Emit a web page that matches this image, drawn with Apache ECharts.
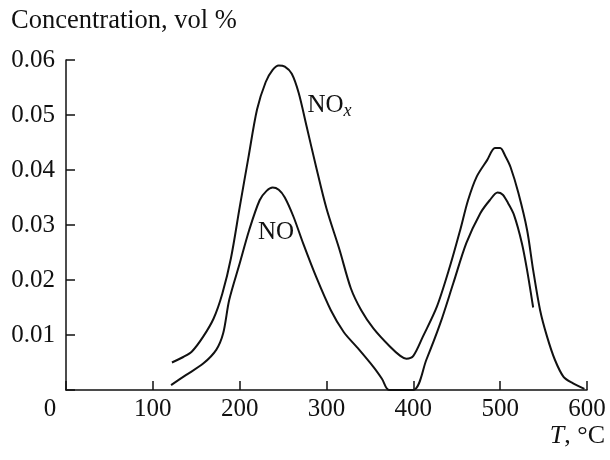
<!DOCTYPE html>
<html>
<head>
    <meta charset="utf-8">
    <title>NO / NOx</title>
    <script src="https://cdn.jsdelivr.net/npm/echarts@6/dist/echarts.min.js"></script>
    <style>
        html, body { margin: 0; padding: 0; background: #fff; }
        #chart { width: 610px; height: 460px; }
    </style>
</head>
<body>
<div id="chart"></div>
<script>
    // temperature ticks
    var xTicks = [0, 100, 200, 300, 400, 500, 600];
    var yTicks = [0.01, 0.02, 0.03, 0.04, 0.05, 0.06];

    // NOx curve
    var noxT = [122, 135, 145, 158, 170, 180, 190, 200, 210, 220, 230, 238, 245, 252, 260, 268, 277, 288, 300, 315,
        328, 340, 354, 373, 385, 392, 400, 411, 427, 442, 454, 463, 473, 485, 494, 500, 506, 512, 521, 531,
        538, 546, 554, 563, 573, 584, 597];
    var noxC = [0.0050, 0.0060, 0.0070, 0.0097, 0.0130, 0.0175, 0.0240, 0.0332, 0.0422, 0.0510, 0.0560, 0.0582, 0.0590, 0.0588, 0.0575, 0.0540, 0.0480, 0.0406, 0.0330, 0.0255,
        0.0185, 0.0145, 0.0112, 0.0079, 0.0062, 0.0057, 0.0062, 0.0097, 0.0151, 0.0224, 0.0291, 0.0345, 0.0388, 0.0418, 0.0440, 0.0440, 0.0425, 0.0405, 0.0358, 0.0291,
        0.0218, 0.0145, 0.0097, 0.0055, 0.0024, 0.0012, 0.0002];

    // NO curve
    var noT = [121, 138, 158, 173, 181, 188, 200, 211, 223, 231, 238, 245, 252, 262, 273, 288, 305, 320, 335, 354,
        364, 372, 400, 415, 431, 446, 461, 477, 488, 497, 503, 509, 516, 525, 531, 538];
    var noC = [0.0009, 0.0027, 0.0048, 0.0073, 0.0103, 0.0164, 0.0230, 0.0291, 0.0345, 0.0362, 0.0368, 0.0364, 0.0350, 0.0315, 0.0267, 0.0206, 0.0145, 0.0105, 0.0078, 0.0042,
        0.0020, 0.0000, 0.0000, 0.0055, 0.0121, 0.0194, 0.0267, 0.0321, 0.0345, 0.0359, 0.0355, 0.0340, 0.0318, 0.0267, 0.0218, 0.0150];

    // curve labels (data coords)
    var noxLabelAt = [278, 0.0518];
    var noLabelAt = [221, 0.0287];

    function zip(a, b) {
        var out = [];
        for (var i = 0; i < a.length; i++) out.push([a[i], b[i]]);
        return out;
    }

    var font = '"Liberation Serif", "DejaVu Serif", serif';
    var ink = '#111';

    var chart = echarts.init(document.getElementById('chart'), null, {renderer: 'canvas'});

    var option = {
        animation: false,
        backgroundColor: '#fff',
        title: [
            {
                // y axis caption
                text: 'Concentration, vol %',
                left: 6,
                top: 3,
                textStyle: {fontFamily: font, fontSize: 26.5, fontWeight: 'normal', color: ink}
            },
            {
                // x axis caption
                text: '{i|T}, °C',
                right: 0,
                top: 418,
                textStyle: {
                    fontFamily: font, fontSize: 26, fontWeight: 'normal', color: ink,
                    rich: {
                        i: {fontFamily: font, fontSize: 26, fontStyle: 'italic', color: ink},
                        r: {fontFamily: font, fontSize: 26, color: ink}
                    }
                }
            }
        ],
        grid: {left: 66, right: 23, top: 60, bottom: 70, containLabel: false, outerBoundsMode: 'none'},
        xAxis: {
            type: 'value',
            min: xTicks[0],
            max: xTicks[xTicks.length - 1],
            interval: 100,
            axisLine: {lineStyle: {color: ink, width: 1.5}},
            axisTick: {inside: true, length: 9, lineStyle: {color: ink, width: 1.5}},
            splitLine: {show: false},
            axisLabel: {
                fontFamily: font, fontSize: 25, color: ink, margin: 7,
                formatter: function (v) {
                    return v === 0 ? '{z|0}' : String(v);
                },
                rich: {z: {fontFamily: font, fontSize: 25, color: ink, padding: [0, 32, 0, 0]}}
            }
        },
        yAxis: {
            type: 'value',
            min: 0,
            max: yTicks[yTicks.length - 1],
            interval: 0.01,
            axisLine: {lineStyle: {color: ink, width: 1.5}},
            axisTick: {inside: true, length: 9, lineStyle: {color: ink, width: 1.5}},
            splitLine: {show: false},
            axisLabel: {
                fontFamily: font, fontSize: 25, color: ink, margin: 11,
                formatter: function (v) {
                    return v === 0 ? '' : v.toFixed(2);
                }
            }
        },
        series: [
            {
                name: 'NOx',
                type: 'line',
                data: zip(noxT, noxC),
                smooth: 0.3,
                showSymbol: false,
                lineStyle: {color: ink, width: 2},
                markPoint: {
                    symbol: 'circle',
                    symbolSize: 0,
                    data: [{
                        coord: noxLabelAt,
                        label: {
                            show: true, position: 'right', distance: 0,
                            formatter: '{a|NO}{b|x}',
                            rich: {
                                a: {fontFamily: font, fontSize: 25, color: ink},
                                b: {fontFamily: font, fontSize: 18, fontStyle: 'italic', color: ink, padding: [12, 0, 0, 0]}
                            }
                        }
                    }]
                }
            },
            {
                name: 'NO',
                type: 'line',
                data: zip(noT, noC),
                smooth: 0.3,
                showSymbol: false,
                lineStyle: {color: ink, width: 2},
                markPoint: {
                    symbol: 'circle',
                    symbolSize: 0,
                    data: [{
                        coord: noLabelAt,
                        label: {
                            show: true, position: 'right', distance: 0,
                            formatter: 'NO',
                            fontFamily: font, fontSize: 25, color: ink
                        }
                    }]
                }
            }
        ]
    };
    chart.setOption(option);
</script>
</body>
</html>
